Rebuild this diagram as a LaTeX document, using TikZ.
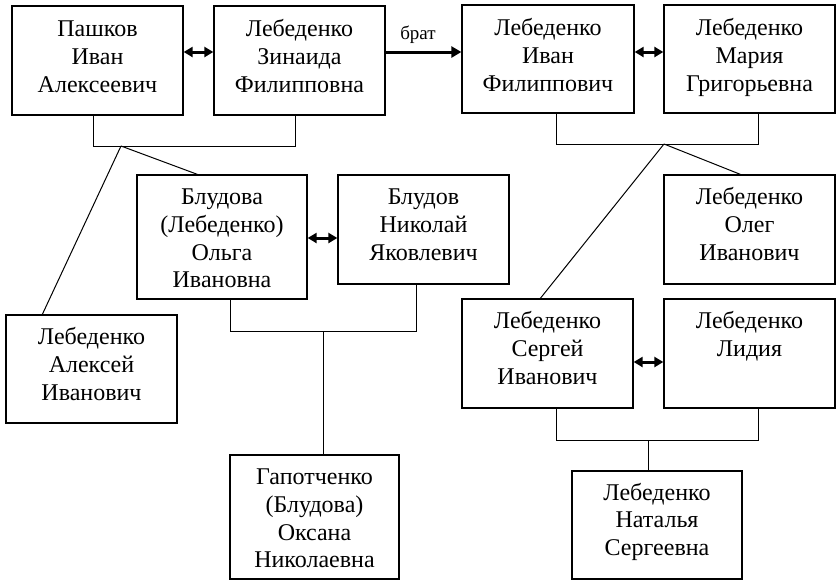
\documentclass[tikz,border=0pt]{standalone}
\usepackage{fontspec}
\setmainfont{Liberation Serif}
\usetikzlibrary{arrows.meta,calc}
\newcommand\firstl{\rule{0pt}{20pt}}
\begin{document}
\begin{tikzpicture}[x=1pt,y=-1pt,
  box/.style={draw, line width=1.3pt, inner sep=0pt},
  ln/.style={line width=1pt},
  dbl/.style={line width=3pt, {Triangle[length=9pt,width=10pt]}-{Triangle[length=9pt,width=10pt]}},
  sgl/.style={line width=3pt, -{Triangle[length=10pt,width=11pt]}},
  txt/.style={anchor=north, align=center, inner sep=0pt, font=\fontsize{24}{27.8}\selectfont}]
\fill[white] (0,0) rectangle (836,579);
\useasboundingbox (0,0) rectangle (836,579);
\clip (0,0) rectangle (836,579);
% boxes
\node[box, minimum width=171pt, minimum height=109pt] (b1) at (97.5,60.5) {};
\node[box, minimum width=171pt, minimum height=109pt] (b2) at (299.5,60.5) {};
\node[box, minimum width=172pt, minimum height=108pt] (b3) at (548,59) {};
\node[box, minimum width=171pt, minimum height=108pt] (b4) at (749.5,59) {};
\node[box, minimum width=170pt, minimum height=124pt] (b5) at (222,237) {};
\node[box, minimum width=171pt, minimum height=109pt] (b6) at (423.5,229.5) {};
\node[box, minimum width=171pt, minimum height=109pt] (b7) at (749.5,229.5) {};
\node[box, minimum width=171pt, minimum height=108pt] (b8) at (91.5,369) {};
\node[box, minimum width=171pt, minimum height=109pt] (b9) at (547.5,353.5) {};
\node[box, minimum width=171pt, minimum height=109pt] (b10) at (749.5,353.5) {};
\node[box, minimum width=169pt, minimum height=124pt] (b11) at (314.5,517) {};
\node[box, minimum width=170pt, minimum height=108pt] (b12) at (657,525) {};
% texts
\node[txt] (t1) at ([yshift=-11pt]b1.north) {\firstl Пашков\\Иван\\Алексеевич};
\node[txt] (t2) at ([yshift=-11pt]b2.north) {\firstl Лебеденко\\Зинаида\\Филипповна};
\node[txt] (t3) at ([yshift=-11pt]b3.north) {\firstl Лебеденко\\Иван\\Филиппович};
\node[txt] (t4) at ([yshift=-11pt]b4.north) {\firstl Лебеденко\\Мария\\Григорьевна};
\node[txt] (t5) at ([yshift=-10pt]b5.north) {\firstl Блудова\\(Лебеденко)\\Ольга\\Ивановна};
\node[txt] (t6) at ([yshift=-10pt]b6.north) {\firstl Блудов\\Николай\\Яковлевич};
\node[txt] (t7) at ([yshift=-10pt]b7.north) {\firstl Лебеденко\\Олег\\Иванович};
\node[txt] (t8) at ([yshift=-10pt]b8.north) {\firstl Лебеденко\\Алексей\\Иванович};
\node[txt] (t9) at ([yshift=-10pt]b9.north) {\firstl Лебеденко\\Сергей\\Иванович};
\node[txt] (t10) at ([yshift=-10pt]b10.north) {\firstl Лебеденко\\Лидия};
\node[txt] (t11) at ([yshift=-10pt]b11.north) {\firstl Гапотченко\\(Блудова)\\Оксана\\Николаевна};
\node[txt] (t12) at ([yshift=-9.5pt]b12.north) {\firstl Лебеденко\\Наталья\\Сергеевна};
% bracket 1
\coordinate (k1) at (93,146);
\coordinate (k2) at (295,146);
\coordinate (j1) at (121,146);
\draw[ln] (b1.south -| k1) -- (k1) -- (k2) -- (b2.south -| k2);
\draw[ln] (j1) -- ($(b8.north west)+(37,0)$);
\draw[ln] (j1) -- ($(b5.north west)+(61,0)$);
% bracket 2
\coordinate (k3) at (556,144);
\coordinate (k4) at (758,144);
\coordinate (j2) at (664,144);
\draw[ln] (b3.south -| k3) -- (k3) -- (k4) -- (b4.south -| k4);
\draw[ln] (j2) -- ($(b7.north west)+(77,0)$);
\draw[ln] (j2) -- ($(b9.north west)+(79,0)$);
% bracket 3
\coordinate (k5) at (230,331);
\coordinate (k6) at (416,331);
\coordinate (j3) at (323,331);
\draw[ln] (b5.south -| k5) -- (k5) -- (k6) -- (b6.south -| k6);
\draw[ln] (j3) -- (b11.north -| j3);
% bracket 4
\coordinate (k7) at (556,440);
\coordinate (k8) at (758,440);
\coordinate (j4) at (648,440);
\draw[ln] (b9.south -| k7) -- (k7) -- (k8) -- (b10.south -| k8);
\draw[ln] (j4) -- (b12.north -| j4);
% marriage arrows
\coordinate (a1) at ([yshift=8.5pt]b1.east);
\draw[dbl] (a1) -- (b2.west |- a1);
\coordinate (a2) at ([yshift=7pt]b3.east);
\draw[dbl] (a2) -- (b4.west |- a2);
\coordinate (a3) at ([yshift=-1pt]b5.east);
\draw[dbl] (a3) -- (b6.west |- a3);
\coordinate (a4) at ([yshift=-8.5pt]b9.east);
\draw[dbl] (a4) -- (b10.west |- a4);
% brother arrow
\coordinate (a5) at ([yshift=8.5pt]b2.east);
\draw[sgl] (a5) -- (b3.west |- a5);
\node[font=\fontsize{19}{20}\selectfont, inner sep=0pt] (lb) at (418,35) {брат};
\end{tikzpicture}
\end{document}
